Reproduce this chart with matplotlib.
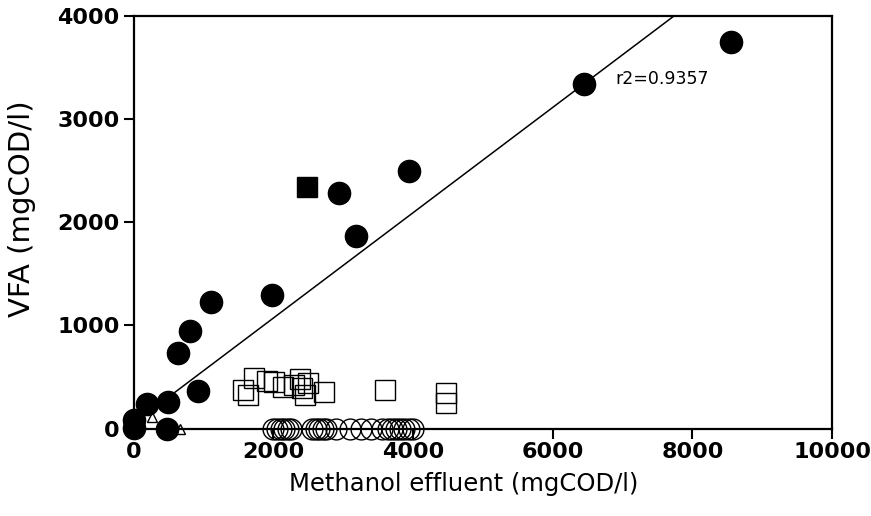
import numpy as np
import matplotlib
matplotlib.use('Agg')
from matplotlib import pyplot as plt

# filled circles (main series)
circ_x = [0, 0, 190, 480, 500, 630, 805, 920, 1105, 1980, 2945, 3190, 3950, 6450, 8560]
circ_y = [85, 10, 235, 0, 255, 735, 950, 365, 1225, 1295, 2290, 1865, 2500, 3345, 3750]

# filled square
fsq_x = [2480]
fsq_y = [2340]

# open squares
osq_x = [1565, 1635, 1730, 1905, 2010, 2135, 2300, 2385, 2410, 2455, 2500, 2725, 3600, 4480, 4470]
osq_y = [370, 325, 495, 465, 455, 405, 420, 485, 390, 325, 440, 350, 375, 340, 245]

# open circles on the x axis
ocirc_x = [2000, 2060, 2110, 2160, 2210, 2260, 2560, 2610, 2660, 2710, 2760,
           2900, 3100, 3250, 3400, 3550, 3650, 3700, 3760, 3820, 3870, 3950, 4000]
ocirc_y = [0] * len(ocirc_x)

# open triangles
tri_x = [260, 670]
tri_y = [110, 0]

# regression line
slope, intercept = 0.511, 49
r2_text = 'r2=0.9357'

fig = plt.figure(figsize=(8.71, 5.16), dpi=100)
ax = fig.add_axes([0.1533, 0.1695, 0.802, 0.799])

ax.plot(ocirc_x, ocirc_y, 'o', mfc='none', mec='k', ms=15, mew=1.0, clip_on=False, zorder=3)
ax.plot(osq_x, osq_y, 's', mfc='none', mec='k', ms=14, mew=1.0, clip_on=False, zorder=3)
ax.plot(tri_x, tri_y, '^', mfc='white', mec='k', ms=7, mew=1.0, clip_on=False, zorder=2)
ax.plot(circ_x, circ_y, 'o', color='k', ms=16, clip_on=False, zorder=4)
ax.plot(fsq_x, fsq_y, 's', color='k', ms=15, clip_on=False, zorder=4)

lx = np.array([0, 10000])
ax.plot(lx, slope * lx + intercept, color='k', lw=1.1, zorder=1)

ax.text(6900, 3390, r2_text, fontsize=12.5, va='center', ha='left')

ax.set_xlim(0, 10000)
ax.set_ylim(0, 4000)
ax.set_xticks([0, 2000, 4000, 6000, 8000, 10000])
ax.set_yticks([0, 1000, 2000, 3000, 4000])
ax.tick_params(direction='out', length=7, width=1.5, labelsize=16, pad=3)
for lab in ax.get_xticklabels() + ax.get_yticklabels():
    lab.set_fontweight('bold')
for s in ax.spines.values():
    s.set_linewidth(1.6)

ax.set_xlabel('Methanol effluent (mgCOD/l)', fontsize=17.5)
ax.set_ylabel('VFA (mgCOD/l)', fontsize=21)
ax.xaxis.set_label_coords(0.472, -0.106)
ax.yaxis.set_label_coords(-0.14, 0.534)

plt.savefig('out.png', dpi=100)
